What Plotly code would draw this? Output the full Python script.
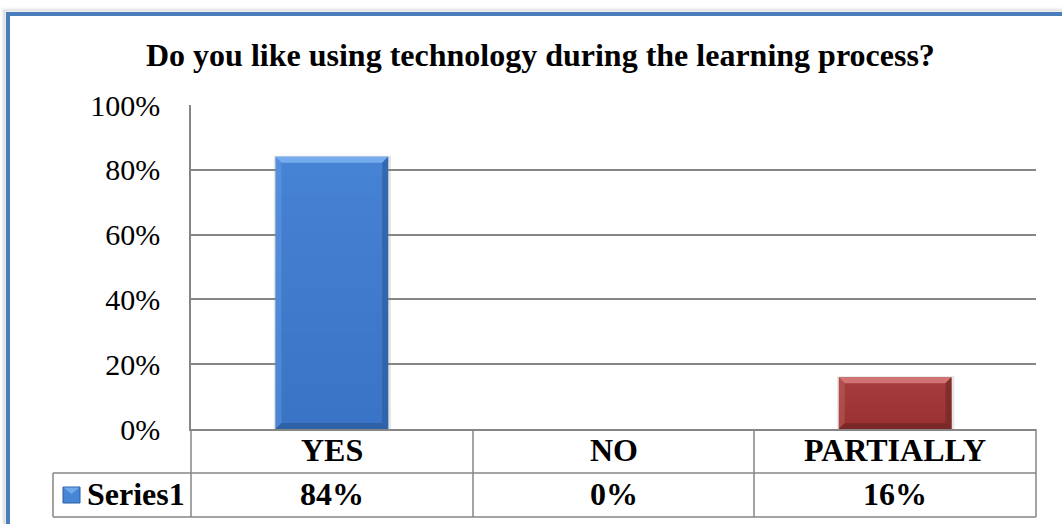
import plotly.graph_objects as go

# Survey answers and their shares (percent)
categories = ["YES", "NO", "PARTIALLY"]
values = [84, 0, 16]
series_name = "Series1"
title_text = "Do you like using technology during the learning process?"
y_ticks = [0, 20, 40, 60, 80, 100]

# Fill colours per bar: (face, light edge, dark edge)
bar_styles = [
    ("#4785d6", "#7ab0f0", "#2d5c9e"),
    ("#4785d6", "#7ab0f0", "#2d5c9e"),
    ("#a63f3e", "#d67978", "#742827"),
]

W, H = 1062, 524
PLOT_L, PLOT_R, PLOT_T, PLOT_B = 191, 1036, 105, 429
ROW1_B, ROW2_B, TABLE_L = 473, 517, 53
FONT = "Liberation Serif, Times New Roman, serif"
GRID = "#868686"


def px(x):
    return x / W


def py(y):
    return 1 - y / H


fig = go.Figure()
fig.add_trace(go.Bar(
    x=categories,
    y=values,
    width=0.4,
    marker=dict(color=[s[0] for s in bar_styles], line=dict(width=0)),
    name=series_name,
    hoverinfo="x+y",
))

shapes = []

# Bevel edges on each bar, sized in pixels then converted to data units
bev_px = 6
cat_px = (PLOT_R - PLOT_L) / len(categories)
bx = bev_px / cat_px
by = bev_px / (PLOT_B - PLOT_T) * 100
for i, v in enumerate(values):
    if v <= 0:
        continue
    face, light, dark = bar_styles[i]
    x0, x1 = i - 0.2, i + 0.2
    # soft drop shadow
    shapes.append(dict(type="rect", xref="x", yref="y", x0=x0 - 0.006, x1=x1 + 0.01,
                       y0=-0.4, y1=v + 0.3, fillcolor="rgba(0,0,0,0.10)",
                       line=dict(width=0), layer="below"))
    # gentle vertical shading, darker toward the base
    n_steps = 14
    for k in range(1, n_steps + 1):
        shapes.append(dict(type="rect", xref="x", yref="y", x0=x0, x1=x1,
                           y0=0, y1=v * k / n_steps, fillcolor=dark,
                           line=dict(width=0), opacity=0.022))
    # top bevel
    shapes.append(dict(type="path", xref="x", yref="y",
                       path=f"M {x0},{v} L {x1},{v} L {x1 - bx},{v - by} L {x0 + bx},{v - by} Z",
                       fillcolor=light, line=dict(width=0), opacity=0.9))
    # left bevel
    shapes.append(dict(type="path", xref="x", yref="y",
                       path=f"M {x0},{v} L {x0 + bx},{v - by} L {x0 + bx},{by} L {x0},0 Z",
                       fillcolor=light, line=dict(width=0), opacity=0.3))
    # right bevel
    shapes.append(dict(type="path", xref="x", yref="y",
                       path=f"M {x1},{v} L {x1 - bx},{v - by} L {x1 - bx},{by} L {x1},0 Z",
                       fillcolor=dark, line=dict(width=0), opacity=0.7))
    # bottom bevel
    shapes.append(dict(type="path", xref="x", yref="y",
                       path=f"M {x0},0 L {x1},0 L {x1 - bx},{by} L {x0 + bx},{by} Z",
                       fillcolor=dark, line=dict(width=0), opacity=0.8))

# Data table grid below the plot
line = dict(color=GRID, width=1.5)
for xv in [PLOT_L, 473, 754, PLOT_R]:
    shapes.append(dict(type="line", xref="paper", yref="paper",
                       x0=px(xv), x1=px(xv), y0=py(PLOT_B), y1=py(ROW2_B), line=line))
shapes.append(dict(type="line", xref="paper", yref="paper",
                   x0=px(TABLE_L), x1=px(TABLE_L), y0=py(ROW1_B), y1=py(ROW2_B), line=line))
for yv in [ROW1_B, ROW2_B]:
    shapes.append(dict(type="line", xref="paper", yref="paper",
                       x0=px(TABLE_L), x1=px(PLOT_R), y0=py(yv), y1=py(yv), line=line))

# Legend key in the table
shapes.append(dict(type="rect", xref="paper", yref="paper",
                   x0=px(63), x1=px(80), y0=py(503), y1=py(487),
                   fillcolor=bar_styles[0][0], line=dict(color=bar_styles[0][2], width=1)))
shapes.append(dict(type="path", xref="paper", yref="paper",
                   path=f"M {px(63.5)},{py(487.5)} L {px(79.5)},{py(487.5)} L {px(71.5)},{py(494)} Z",
                   fillcolor=bar_styles[0][1], line=dict(width=0), opacity=0.8))

# Outer frame with a soft grey shadow
for k, alpha in enumerate([0.05, 0.09, 0.14, 0.2]):
    off = 4 - k
    shapes.append(dict(type="rect", xref="paper", yref="paper",
                       x0=px(8 - 2 - off), x1=px(1080), y0=py(540), y1=py(14 - 2 - off),
                       line=dict(color=f"rgba(90,90,90,{alpha})", width=1.2), layer="below"))
shapes.append(dict(type="rect", xref="paper", yref="paper",
                   x0=px(8), x1=px(1080), y0=py(540), y1=py(14),
                   line=dict(color="#4a7ebb", width=4)))

TABLE_SIZE = 32
annotations = [
    dict(text=f"<b>{title_text}</b>", xref="paper", yref="paper", x=px(540), y=py(55),
         showarrow=False, font=dict(family=FONT, size=32, color="black"),
         xanchor="center", yanchor="middle"),
    dict(text=f"<b>{series_name}</b>", xref="paper", yref="paper", x=px(85), y=py(494),
         showarrow=False, font=dict(family=FONT, size=TABLE_SIZE, color="black"),
         xanchor="left", yanchor="middle"),
]
for c, v in zip(categories, values):
    annotations.append(dict(text=f"<b>{c}</b>", xref="x", yref="paper", x=c, y=py(450),
                            showarrow=False, font=dict(family=FONT, size=TABLE_SIZE, color="black"),
                            xanchor="center", yanchor="middle"))
    annotations.append(dict(text=f"<b>{v}%</b>", xref="x", yref="paper", x=c, y=py(494),
                            showarrow=False, font=dict(family=FONT, size=TABLE_SIZE, color="black"),
                            xanchor="center", yanchor="middle"))

fig.update_layout(
    width=W, height=H,
    margin=dict(l=0, r=0, t=0, b=0),
    paper_bgcolor="white",
    plot_bgcolor="white",
    showlegend=False,
    shapes=shapes,
    annotations=annotations,
    xaxis=dict(
        type="category", domain=[px(PLOT_L), px(PLOT_R)], range=[-0.5, 2.5],
        showticklabels=False, showgrid=False, zeroline=False, automargin=False,
        showline=True, linecolor=GRID, linewidth=1.5, ticks="",
    ),
    yaxis=dict(
        domain=[py(PLOT_B), py(PLOT_T)], range=[0, 100], automargin=False,
        tickvals=y_ticks, ticktext=[f"{t}%" for t in y_ticks],
        showgrid=True, gridcolor=GRID, gridwidth=1.5, zeroline=False,
        showline=True, linecolor=GRID, linewidth=1.5, ticks="",
        ticklabelstandoff=23,
        tickfont=dict(family=FONT, size=30, color="black"),
    ),
)

fig.write_html("out.html")
